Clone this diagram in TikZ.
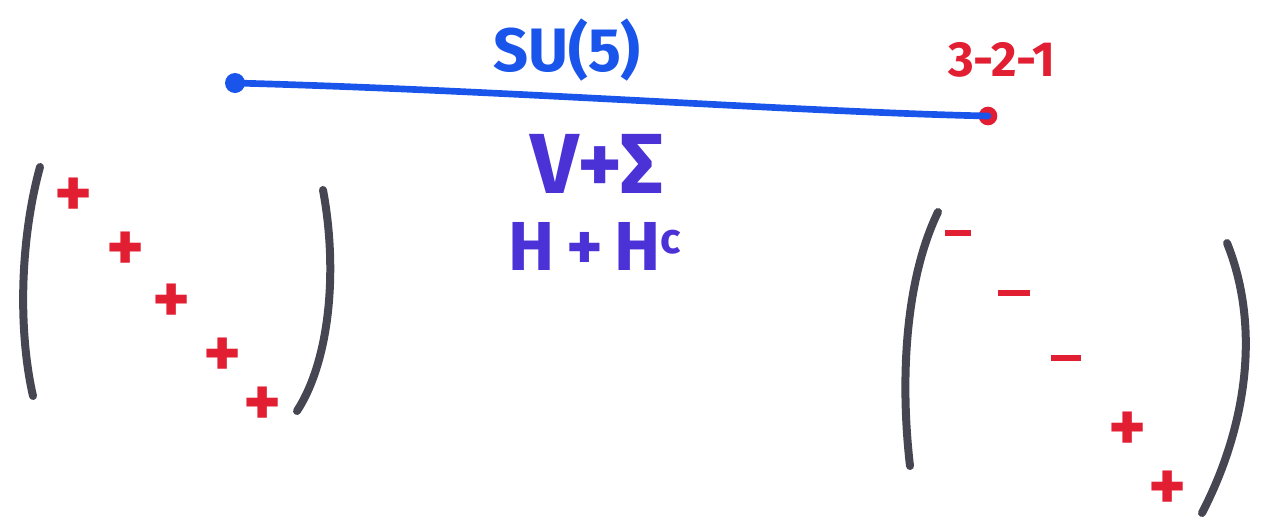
\documentclass[tikz,border=0pt]{standalone}
\usepackage{fontspec}
\setmainfont{Fira Sans}
\definecolor{lineblue}{RGB}{25,85,235}
\definecolor{ink}{RGB}{75,50,215}
\definecolor{mred}{RGB}{225,30,50}
\definecolor{pgray}{RGB}{70,70,82}
\begin{document}
\begin{tikzpicture}[x=0.75pt,y=-0.75pt,
  sign/.style={text=mred,font=\fontsize{54}{54}\selectfont\bfseries,inner sep=0pt,text height=24pt,text depth=0pt},
  minus/.style={fill=mred,inner sep=0pt,minimum height=5pt},
  paren/.style={draw=pgray,line width=6pt,line cap=round},
  dot/.style={circle,inner sep=0pt,minimum size=15pt}]
\useasboundingbox (0,0) rectangle (1267,522);
% line
\node[dot,fill=lineblue] (a) at (235,83) {};
\node[dot,fill=mred,minimum size=14pt] (b) at (988,116) {};
\draw[lineblue,line width=5pt,line cap=round] (a.center) .. controls (500,90) and (800,112) .. (b.center);
\node[text=lineblue,font=\fontsize{46}{46}\selectfont\bfseries] (su) at (567,50) {SU(5)};
\node[text=mred,font=\fontsize{37}{37}\selectfont\bfseries] (g) at (1002,60) {3-2-1};
\node[text=ink,font=\fontsize{64}{64}\selectfont\bfseries] (vs) at (597,164) {V+Σ};
\node[text=ink,font=\fontsize{52}{52}\selectfont\bfseries] (hh) at (595,246) {H\,+\,H\raisebox{0.45ex}{\fontsize{32}{32}\selectfont c}};
% left matrix
\coordinate (l1) at (40,167); \coordinate (l2) at (33,396);
\draw[paren] (l1) .. controls (20,240) and (18,330) .. (l2);
\coordinate (r1) at (323,190); \coordinate (r2) at (297,411);
\draw[paren] (r1) .. controls (338,270) and (330,360) .. (r2);
\node[sign] (p1) at (74,201) {+};
\node[sign] (p2) at (126,255) {+};
\node[sign] (p3) at (172,307) {+};
\node[sign] (p4) at (223,361) {+};
\node[sign] (p5) at (263,410) {+};
% right matrix
\coordinate (l3) at (938,212); \coordinate (l4) at (910,466);
\draw[paren] (l3) .. controls (905,280) and (900,380) .. (l4);
\coordinate (r3) at (1227,243); \coordinate (r4) at (1202,513);
\draw[paren] (r3) .. controls (1262,330) and (1245,430) .. (r4);
\node[minus,minimum width=19pt] (m1) at (958,233) {};
\node[minus,minimum width=24pt] (m2) at (1014,293) {};
\node[minus,minimum width=22pt] (m3) at (1066,358) {};
\node[sign] (q1) at (1128,435) {+};
\node[sign] (q2) at (1168,494) {+};
\end{tikzpicture}
\end{document}
